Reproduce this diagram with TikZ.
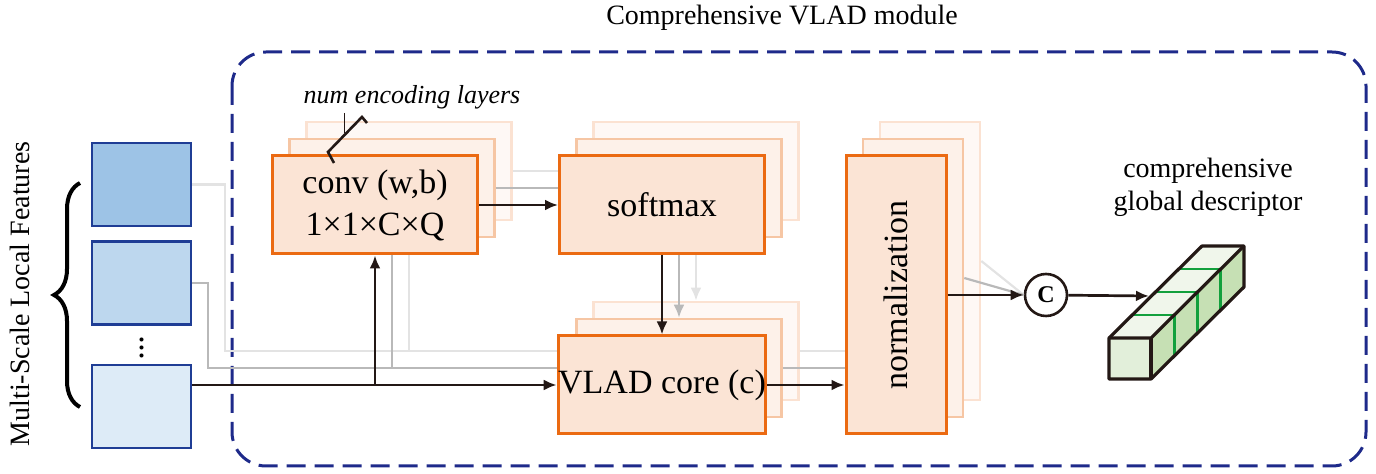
\documentclass[tikz,border=0pt]{standalone}
\usepackage{fontspec}
\setmainfont{Liberation Serif}
\usepackage{tikz}
\usetikzlibrary{arrows.meta,positioning,calc,decorations.pathreplacing}
\definecolor{CoreOrange}{HTML}{EB6A12}
\definecolor{CoreFill}{HTML}{FBE4D5}
\definecolor{ShadeOneLine}{HTML}{F6C6A4}
\definecolor{ShadeOneFill}{HTML}{FDF1E9}
\definecolor{ShadeTwoLine}{HTML}{FBE2D2}
\definecolor{ShadeTwoFill}{HTML}{FEF8F5}
\definecolor{FeatEdge}{HTML}{1F3D95}
\definecolor{FeatDark}{HTML}{9DC3E6}
\definecolor{FeatMid}{HTML}{BDD7EE}
\definecolor{FeatLight}{HTML}{DDEBF7}
\definecolor{FrameNavy}{HTML}{1E2A8A}
\definecolor{FlowInk}{HTML}{231815}
\definecolor{GreyMid}{HTML}{B9B9B9}
\definecolor{GreyLight}{HTML}{E3E3E3}
\definecolor{DescFront}{HTML}{E2EFDA}
\definecolor{DescTop}{HTML}{F0F6EB}
\definecolor{DescSide}{HTML}{C6E0B4}
\definecolor{DescGreen}{HTML}{12A03C}

\tikzset{
  block/.style={draw=CoreOrange,fill=CoreFill,line width=1.5pt,inner sep=0pt,
    align=center,font=\fontsize{17}{21}\selectfont},
  shade/.style={line width=1.3pt,inner sep=0pt},
  wide/.style={minimum width=102.5pt,minimum height=49pt},
  tall/.style={minimum width=50pt,minimum height=139pt},
  feat/.style={draw=FeatEdge,line width=1.3pt,minimum width=49.5pt,
    minimum height=41.5pt,inner sep=0pt},
  flow/.style={draw=FlowInk,line width=1.35pt,-{Latex[length=6.5pt,width=5.5pt]}},
  ghostMid/.style={draw=GreyMid,line width=1.1pt,-{Latex[length=6.5pt,width=5.5pt]}},
  ghostLight/.style={draw=GreyLight,line width=1.1pt,-{Latex[length=6.5pt,width=5.5pt]}},
  caption/.style={align=center,font=\fontsize{14}{16.5}\selectfont},
  modframe/.style={draw=FrameNavy,line width=1.5pt,rounded corners=17pt,
    dash pattern=on 9.5pt off 4.5pt},
  descedge/.style={draw=FlowInk,line width=1.6pt,line join=round}
}

\begin{document}
\begin{tikzpicture}[x=0.5pt,y=-0.5pt]
  \useasboundingbox (0,0) rectangle (1376,474);

  % module frame
  \draw[modframe] (232,52) rectangle (1366,466);
  \node[caption] (title) at (782,18) {Comprehensive VLAD module};

  % multi-scale inputs
  \node[feat,fill=FeatDark] (f1) at (141.5,184.5) {};
  \node[feat,fill=FeatMid] (f2) at (141.5,283) {};
  \node[font=\fontsize{17}{21}\selectfont] (dots) at (141.5,342) {$\vdots$};
  \node[feat,fill=FeatLight] (f3) at (141.5,406.5) {};
  \draw[line width=2pt,decorate,decoration={brace,amplitude=13pt}] (80,407) -- (80,183);
  \node[caption,rotate=90] (mslf) at (20,294) {Multi-Scale Local Features};

  % stacked copies behind each block
  \coordinate (convC) at (375,205);
  \coordinate (softC) at (662,205);
  \coordinate (vladC) at (662,385);
  \coordinate (normC) at (896,295);
  \foreach \lv/\off/\ln/\fl in {3/34/ShadeTwoLine/ShadeTwoFill,2/17/ShadeOneLine/ShadeOneFill}{
    \foreach \blk/\sz in {conv/wide,soft/wide,vlad/wide,norm/tall}
      \node[shade,draw=\ln,fill=\fl,\sz] (\blk\lv) at ($(\blk C)+(\off,-\off)$) {};
  }

  % faded paths of the other encodings
  \draw[ghostLight] (f1.east) -- ++(33,0) |- (vlad3.west);
  \draw[ghostLight] (conv3.south |- vlad3.west) -- (conv3.south);
  \draw[ghostMid] (f2.east) -- ++(16,0) |- (vlad2.west);
  \draw[ghostMid] (conv2.south |- vlad2.west) -- (conv2.south);
  \draw[ghostLight] (conv3.east) -- (soft3.west);
  \draw[ghostMid] (conv2.east) -- (soft2.west);
  \draw[ghostLight] (soft3.south) -- (vlad3.north);
  \draw[ghostMid] (soft2.south) -- (vlad2.north);
  \draw[ghostLight] (vlad3.east) -- (vlad3.east -| norm3.west);
  \draw[ghostMid] (vlad2.east) -- (vlad2.east -| norm2.west);

  % main blocks
  \node[block,wide] (conv) at (convC) {conv (w,b)\\1×1×C×Q};
  \node[block,wide] (soft) at (softC) {softmax};
  \node[block,wide] (vlad) at (vladC) {VLAD core (c)};
  \node[block,tall] (norm) at (normC) {\rotatebox{90}{normalization}};

  \node[circle,draw=FlowInk,line width=1.3pt,minimum size=21pt,inner sep=0pt,
    font=\fontsize{12}{12}\selectfont\bfseries] (cat) at (1046,295) {C};

  % main flow
  \draw[flow] (f3.east |- vlad.west) -- (vlad.west);
  \draw[flow] (conv.south |- vlad.west) -- (conv.south);
  \draw[flow] (conv) -- (soft);
  \draw[flow] (soft) -- (vlad);
  \draw[flow] (vlad.east) -- (vlad.east -| norm.west);
  \draw[GreyLight,line width=1.1pt] (norm3.east) -- (cat.west);
  \draw[GreyMid,line width=1.1pt] (norm2.east) -- (cat.west);
  \draw[flow] (norm) -- (cat);

  % layer count mark
  \node[font=\fontsize{13}{13}\selectfont\itshape] (numlbl) at (412,97) {num encoding layers};
  \draw[FlowInk,line width=0.4pt] (344,113) -- (344,133);
  \draw[FlowInk,line width=1.3pt] (367,123) -- (362,117) -- (328,152) -- (334,163);

  % output descriptor
  \node[caption] (desclbl) at (1208,187) {comprehensive\\global descriptor};
  \fill[DescTop] (1109,338) -- (1202,246) -- (1244,246) -- (1151,338) -- cycle;
  \fill[DescSide] (1151,338) -- (1244,246) -- (1244,287) -- (1151,379) -- cycle;
  \fill[DescFront] (1109,338) rectangle (1151,379);
  \foreach \t in {0.25,0.5,0.75}
    \draw[DescGreen,line width=1.3pt] ($(1109,338)+\t*(93,-92)$) -- ++(42,0) -- ++(0,41);
  \draw[descedge] (1109,338) -- (1202,246) -- (1244,246) -- (1244,287) -- (1151,379)
    -- (1109,379) -- cycle;
  \draw[descedge] (1109,338) -- (1151,338) -- (1244,246);
  \draw[descedge] (1151,338) -- (1151,379);
  \coordinate (descIn) at (1149,296);
  \draw[flow] (cat) -- (descIn);
\end{tikzpicture}
\end{document}
